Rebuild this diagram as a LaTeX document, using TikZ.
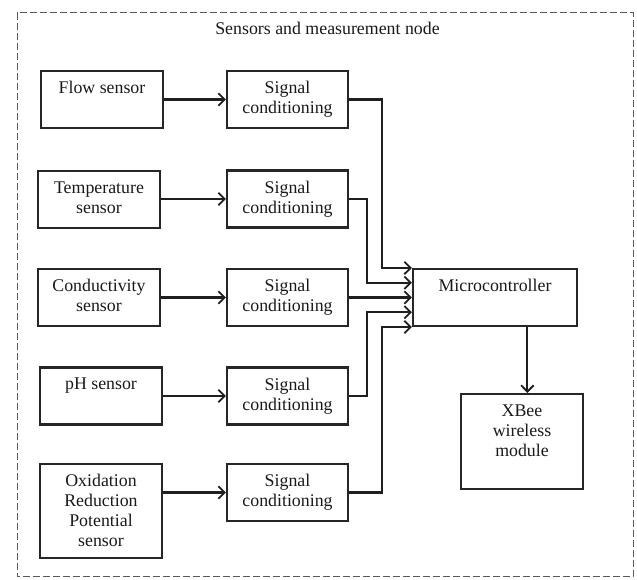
\documentclass[tikz,border=0pt]{standalone}
\usepackage{fontspec}
\setmainfont{Liberation Serif}
\usetikzlibrary{arrows.meta,calc}
\begin{document}
\begin{tikzpicture}[x=0.6pt,y=-0.6pt,
  txt/.style={font=\fontsize{10.7}{12}\selectfont, text=black!90},
  blk/.style={draw=black!85, line width=1.25pt, inner sep=0pt, minimum width=#1},
  blk/.default=73.2pt,
  lbl/.style={txt, anchor=north, align=center, inner sep=0pt, yshift=-6.8pt},
  arr/.style={draw=black!88, line width=1.25pt, -{Straight Barb[length=3.8pt,width=7.5pt,line width=1.1pt]}},
  ln/.style={draw=black!88, line width=1.25pt}
]
\useasboundingbox (0,0) rectangle (637,580);
% frame
\draw[black!65, line width=0.6pt, dash pattern=on 4pt off 2pt] (17,13) rectangle (633,577);
\node[txt, anchor=base] (title) at (327.5,35) {Sensors and measurement node};
% sensors
\node[blk, minimum height=34.2pt, label={[lbl]north:Flow sensor}] (s1) at (102,99.5) {};
\node[blk, minimum height=34.2pt, label={[lbl]north:Temperature\\sensor}] (s2) at (99,199.5) {};
\node[blk, minimum height=34.2pt, label={[lbl]north:Conductivity\\sensor}] (s3) at (99,297.5) {};
\node[blk, minimum height=34.2pt, label={[lbl]north:pH sensor}] (s4) at (101,396) {};
\node[blk, minimum height=56.4pt, label={[lbl]north:Oxidation\\Reduction\\Potential\\sensor}] (s5) at (101,511) {};
% signal conditioning
\foreach \i/\y in {1/99.5,2/199,3/297.5,4/396,5/492.5}{
  \node[blk=72.6pt, minimum height=34.2pt, label={[lbl]north:Signal\\conditioning}] (c\i) at (287.5,\y) {};
}
% microcontroller and xbee
\node[blk=98.4pt, minimum height=34.2pt, label={[lbl]north:Microcontroller}] (mc) at (495,297.5) {};
\node[blk=73.2pt, minimum height=57pt, label={[lbl]north:XBee\\wireless\\module}] (xb) at (522,441.5) {};
% inputs of microcontroller
\foreach \i/\k in {1/0,2/0.25,3/0.5,4/0.75,5/1}{
  \coordinate (in\i) at ($(mc.north west)!\k!(mc.south west)$);
}
\coordinate (mcout) at ($(mc.south west)!0.695!(mc.south east)$);
% sensor -> conditioning
\foreach \i in {1,...,5}{
  \draw[arr] (s\i.east |- c\i.west) -- (c\i.west);
}
% conditioning -> microcontroller
\draw[arr] (c1.east) -- ++(33,0) |- (in1);
\draw[arr] (c2.east) -- ++(18,0) |- (in2);
\draw[arr] (c3.east) -- (in3);
\draw[arr] (c4.east) -- ++(18,0) |- (in4);
\draw[arr] (c5.east) -- ++(33,0) |- (in5);
% microcontroller -> xbee
\draw[arr] (mcout) -- (mcout |- xb.north);
\end{tikzpicture}
\end{document}
